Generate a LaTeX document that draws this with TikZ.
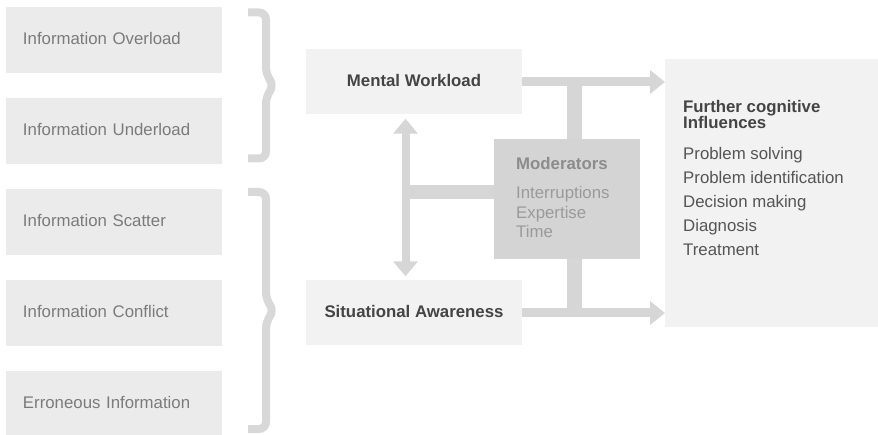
\documentclass[tikz,border=0pt]{standalone}
\usepackage{fontspec}
\setmainfont{Liberation Sans}
\usetikzlibrary{arrows.meta,positioning}
\definecolor{boxgrey}{HTML}{EBEBEB}
\definecolor{panelgrey}{HTML}{F2F2F2}
\definecolor{modgrey}{HTML}{D4D4D4}
\definecolor{flowgrey}{HTML}{D6D6D6}
\definecolor{txtgrey}{HTML}{7B7B7B}
\definecolor{txtdark}{HTML}{444444}
\definecolor{txtmid}{HTML}{555555}
\definecolor{modtxt}{HTML}{8C8C8C}
\definecolor{moditem}{HTML}{9A9A9A}
\newcommand\figfont{\fontsize{16.8pt}{16pt}\selectfont}
\tikzset{
  infobox/.style={fill=boxgrey, text=txtgrey, text width=182pt, align=left,
                  inner xsep=17pt, minimum height=66pt, text height=12pt,
                  text depth=3pt},
  mainbox/.style={fill=panelgrey, text=txtdark, font=\figfont\bfseries,
                  minimum width=216pt, minimum height=65pt, text height=12pt,
                  text depth=3pt},
  panel/.style={fill=panelgrey, minimum width=213pt, minimum height=268pt,
                anchor=north west, inner sep=0pt},
  modbox/.style={fill=modgrey, minimum width=146pt, minimum height=120pt,
                 anchor=north west, inner sep=0pt},
  ptxt/.style={anchor=base west, inner sep=0pt},
  ptxtb/.style={ptxt, font=\figfont\bfseries},
  flow/.style={draw=flowgrey, line width=9pt,
               -{Triangle[length=15pt,width=23pt]}},
  linkbar/.style={draw=flowgrey},
  curlybar/.style={draw=flowgrey!95!white, line width=8pt, rounded corners=7pt},
}
\begin{document}
\begin{tikzpicture}[x=1pt, y=-1pt, font=\figfont]
\useasboundingbox (0,0) rectangle (878,435);

% information problems
\foreach \i/\txt in {0/Information Overload, 1/Information Underload,
                     2/Information Scatter, 3/Information Conflict,
                     4/Erroneous Information} {
    \node[infobox] (info\i) at (114, 40+91*\i) {\txt};
}

% brackets
\foreach \top/\bot in {12.5/158.5, 192/429} {
    \pgfmathsetmacro\mid{(\top+\bot)/2}
    \draw[curlybar] (248,\top) -- (266,\top) -- (266,\mid-11) -- (274,\mid)
      -- (266,\mid+11) -- (266,\bot) -- (248,\bot);
}

% main boxes
\node[mainbox] (mental) at (414, 82) {Mental Workload};
\node[mainbox] (situ) at (414, 313) {Situational Awareness};
\node[modbox] (moder) at (494, 139) {};
\node[panel] (further) at (665, 59) {};

% moderators
\node[ptxtb, text=modtxt] (modhd) at (516, 170) {Moderators};
\foreach \i/\txt in {0/Interruptions, 1/Expertise, 2/Time}
    \node[ptxt, text=moditem] (mod\i) at (516, 199+19.5*\i) {\txt};

% further influences
\node[ptxtb, text=txtdark] (furhd1) at (683, 113) {Further cognitive};
\node[ptxtb, text=txtdark] (furhd2) at (683, 129) {Influences};
\foreach \i/\txt in {0/Problem solving, 1/Problem identification,
                     2/Decision making, 3/Diagnosis, 4/Treatment}
    \node[ptxt, text=txtmid] (fur\i) at (683, 160+23.8*\i) {\txt};

% connectors
\coordinate (vx) at ([xshift=-8.5pt]mental.south);
\draw[linkbar, line width=15pt] ([xshift=7.5pt]moder.north) --
  ([xshift=7.5pt]moder.north |- mental.east);
\draw[linkbar, line width=15pt] ([xshift=7.5pt]moder.south) --
  ([xshift=7.5pt]moder.south |- situ.east);
\draw[linkbar, line width=14pt] ([yshift=7pt]moder.west) -- ([yshift=7pt]moder.west -| vx);
\draw[flow] (mental.east) -- (mental.east -| further.west);
\draw[flow] (situ.east) -- (situ.east -| further.west);
\draw[draw=flowgrey, line width=8pt, shorten <=4pt, shorten >=4pt,
      {Triangle[length=15pt,width=24pt]}-{Triangle[length=15pt,width=24pt]}]
  (vx) -- (vx |- situ.north);

\end{tikzpicture}
\end{document}
